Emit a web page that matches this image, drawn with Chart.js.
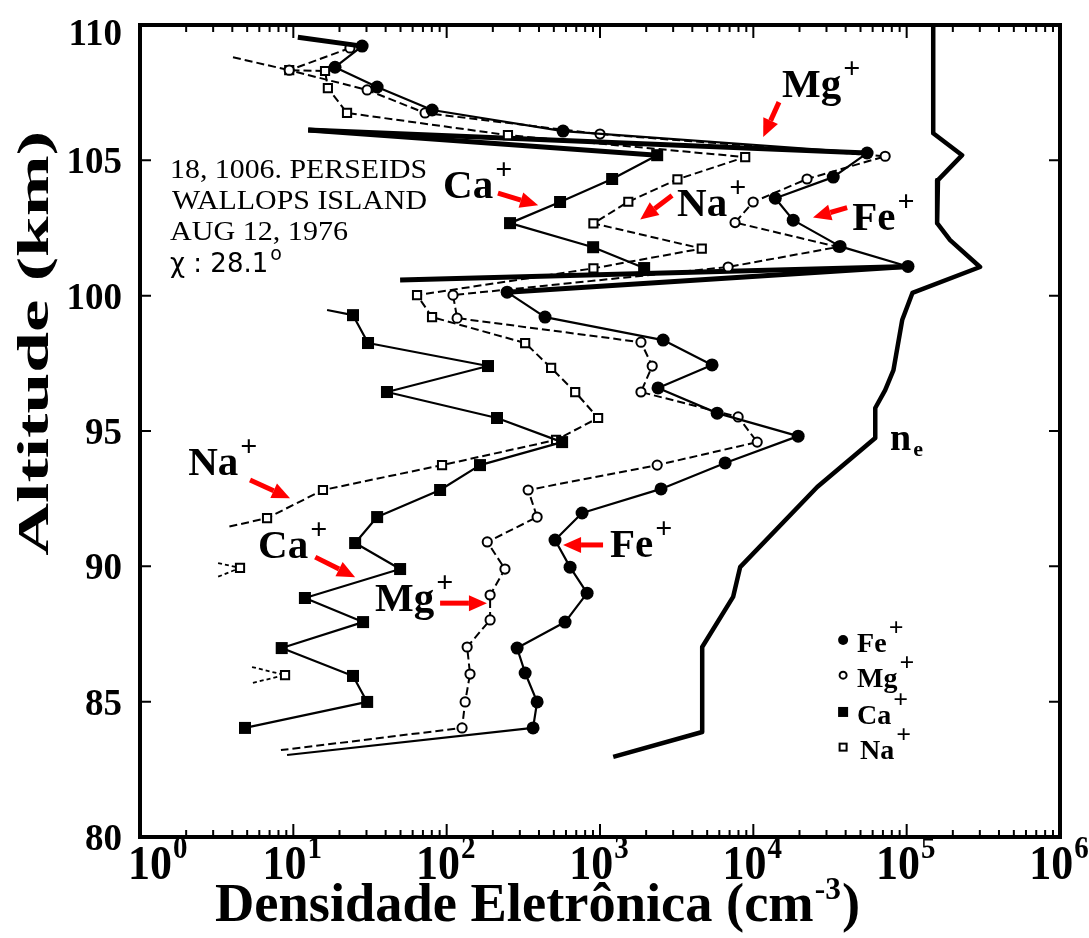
<!DOCTYPE html>
<html><head><meta charset="utf-8">
<script src="https://cdn.jsdelivr.net/npm/chart.js@4.4.1/dist/chart.umd.min.js"></script>
<style>html,body{margin:0;padding:0;background:#fff;}canvas{display:block;}</style>
</head><body>
<canvas id="c" width="1089" height="938"></canvas>
<script>
// ---------------- data (altitude in km, density in cm^-3) ----------------
const feAlt = [109.55,109.22,108.44,107.71,106.86,106.08,105.27,104.38,103.60,102.79,101.82,101.08,100.13,99.21,98.36,97.44,96.59,95.66,94.81,93.82,92.86,91.97,90.97,89.97,89.01,87.94,86.98,86.06,84.99,84.03,83.03];
const feVal = [10.7,28.1,18.7,35.2,80.4,574,55200,33200,13900,18200,36800,102000,248,438,2580,5380,2390,5810,19600,6550,2500,764,509,638,824,592,288,325,389,366,9.1];

const mgAlt = [109.15,108.33,107.60,106.75,105.97,105.15,104.31,103.46,102.70,101.80,101.06,100.02,99.17,98.28,97.40,96.44,95.52,94.59,93.74,92.82,91.82,90.90,89.90,88.94,88.02,87.02,86.02,84.99,84.03,83.21];
const mgVal = [23.4,9.4,30.3,72.3,1000,72400,22400,9970,7600,35700,6850,110,117,1850,2190,1850,7960,10600,2360,340,389,184,240,192,192,136,142,132,126,8.3];

const caAlt = [106.12,105.19,104.31,103.46,102.68,101.79,101.02,null,99.47,99.28,98.25,97.40,96.44,95.48,94.59,93.74,92.82,91.82,90.86,89.90,88.83,87.94,86.98,85.95,84.99,84.03];
const caVal = [12.5,2360,1200,549,259,902,1940,null,16.6,24.5,30.7,186,40.8,213,566,165,90.6,35.2,25.3,49.7,11.9,28.5,8.4,24.5,30.3,4.84];

const naAlt = [108.81,108.33,108.30,107.67,106.75,105.93,105.12,104.30,103.47,102.67,101.74,101.01,100.02,99.21,98.25,97.33,96.44,95.48,94.67,93.74,92.82,91.78,91.45];
const naVal = [4.04,9.4,16.1,16.8,22.4,251,8850,3200,1530,906,4610,906,64.1,80.3,325,480,689,972,517,93.3,15.6,6.74,3.7];

const naLimitAlt1 = [90.12,89.94,89.60];
const naLimitVal1 = [3.23,4.49,3.18];
const naLimitAlt2 = [86.28,85.98,85.69];
const naLimitVal2 = [5.38,8.83,5.38];

const linkAlt1 = [106.12,105.27];
const linkVal1 = [12.5,55200];
const linkAlt2 = [100.58,101.08];
const linkVal2 = [49.7,102000];

const neAlt = [110,106.0,105.19,104.27,102.68,102.05,101.06,100.10,99.10,97.25,96.51,95.85,94.74,92.93,89.97,88.87,87.02,83.88,82.96];
const neVal = [149000,149000,230000,160000,158000,192000,301000,109000,93500,82000,72400,62400,62400,26100,8200,7380,4640,4640,1220];

const xTickExponents = [0,1,2,3,4,5,6];
const yTickValues = [80,85,90,95,100,105,110];

const infoLines = ['18, 1006. PERSEIDS','WALLOPS ISLAND','AUG 12, 1976'];
const legendItems = ['Fe','Mg','Ca','Na'];

// annotations in data space: [density, altitude]
const notes = [
  {base:'Mg', at:[15400,107.34], tail:[14700,107.15], tip:[11600,105.86]},
  {base:'Ca', at:[94.8,103.61],  tail:[216,103.79],   tip:[395,103.34]},
  {base:'Na', at:[3180,102.94],  tail:[2950,103.70],  tip:[1830,102.81]},
  {base:'Fe', at:[44100,102.42], tail:[40900,103.25], tip:[24500,102.89]},
  {base:'Na', at:[2.06,93.37],   tail:[5.22,93.19],   tip:[9.52,92.52]},
  {base:'Ca', at:[5.89,90.31],   tail:[13.9,90.34],   tip:[25.3,89.60]},
  {base:'Mg', at:[34.1,88.35],   tail:[90.6,88.64],   tip:[183,88.64]},
  {base:'Fe', at:[1160,90.34],   tail:[1047,90.79],   tip:[574,90.79]}
];

// ---------------- chart ----------------
const SERIF = '"Liberation Serif","Times New Roman",serif';
const toPts = (vals, alts) => vals.map((v,i)=>({x:v, y:alts[i]}));
function line(label, vals, alts, extra){
  return Object.assign({label, data: toPts(vals, alts), showLine:true, spanGaps:false,
    borderColor:'#000', pointBorderColor:'#000', borderJoinStyle:'round', fill:false}, extra);
}

const datasets = [
  line('n_e', neVal, neAlt, {borderWidth:4.5, pointRadius:0, order:10}),
  line('Fe+ ligação 1', linkVal1, linkAlt1, {borderWidth:5, pointRadius:0, order:5}),
  line('Fe+ ligação 2', linkVal2, linkAlt2, {borderWidth:5, pointRadius:0, order:5}),
  line('Na+', naVal, naAlt, {borderWidth:2, borderDash:[8,4], pointStyle:'rect', pointBackgroundColor:'#fff', pointBorderWidth:2,
        pointRadius: c => (c.dataIndex===0 || c.dataIndex===naVal.length-1) ? 0 : 5.8, order:4}),
  line('Na+ limite 1', naLimitVal1, naLimitAlt1, {borderWidth:1.8, borderDash:[4,3], pointStyle:'rect', pointBackgroundColor:'#fff', pointBorderWidth:2,
        pointRadius: c => c.dataIndex===1 ? 5.8 : 0, order:4}),
  line('Na+ limite 2', naLimitVal2, naLimitAlt2, {borderWidth:1.8, borderDash:[4,3], pointStyle:'rect', pointBackgroundColor:'#fff', pointBorderWidth:2,
        pointRadius: c => c.dataIndex===1 ? 5.8 : 0, order:4}),
  line('Mg+', mgVal, mgAlt, {borderWidth:2, borderDash:[8,4], pointStyle:'circle', pointBackgroundColor:'#fff', pointBorderWidth:2,
        pointRadius: c => c.dataIndex===mgVal.length-1 ? 0 : 4.6, order:3}),
  line('Ca+', caVal, caAlt, {borderWidth:2.2, pointStyle:'rect', pointBackgroundColor:'#000', pointBorderWidth:0,
        pointRadius: c => (c.dataIndex===0 || c.dataIndex===8) ? 0 : 8.5,
        segment:{borderWidth: c => c.p0DataIndex===0 ? 5 : 2.2}, order:2}),
  line('Fe+', feVal, feAlt, {borderWidth:2.2, pointStyle:'circle', pointBackgroundColor:'#000', pointBorderWidth:0,
        pointRadius: c => (c.dataIndex===0 || c.dataIndex===feVal.length-1) ? 0 : 6.5,
        segment:{borderWidth: c => (c.p0DataIndex===11 || c.p0DataIndex===0) ? 5 : 2.2}, order:1})
];

function fitText(ctx, s, x, y, font, targetW, sy){
  ctx.font = font;
  const w = ctx.measureText(s).width;
  ctx.save(); ctx.translate(x, y); ctx.scale(targetW ? targetW / w : 1, sy || 1);
  ctx.textAlign = 'left'; ctx.textBaseline = 'alphabetic';
  ctx.fillText(s, 0, 0); ctx.restore();
}
function supText(ctx, base, sup, x, y, size, supSize, rise, gap){
  ctx.textAlign='left'; ctx.textBaseline='alphabetic';
  ctx.font = `bold ${size}px ${SERIF}`;
  ctx.fillText(base, x, y);
  const w = ctx.measureText(base).width;
  ctx.font = `bold ${supSize}px ${SERIF}`;
  ctx.fillText(sup, x + w + (gap||2), y - rise);
}
function redArrow(ctx, x1, y1, x2, y2){
  const ang = Math.atan2(y2-y1, x2-x1), L = 18, H = 8;
  const bx = x2 - L*Math.cos(ang), by = y2 - L*Math.sin(ang);
  ctx.save(); ctx.strokeStyle = '#f00'; ctx.fillStyle = '#f00'; ctx.lineWidth = 5; ctx.lineCap='butt';
  ctx.beginPath(); ctx.moveTo(x1, y1); ctx.lineTo(bx, by); ctx.stroke();
  ctx.beginPath(); ctx.moveTo(x2, y2);
  ctx.lineTo(bx + H*Math.sin(ang), by - H*Math.cos(ang));
  ctx.lineTo(bx - H*Math.sin(ang), by + H*Math.cos(ang));
  ctx.closePath(); ctx.fill(); ctx.restore();
}

const decor = {
  id:'decor',
  afterDatasetsDraw(chart){
    const ctx = chart.ctx, a = chart.chartArea, sx = chart.scales.x, sy = chart.scales.y;
    const px = v => sx.getPixelForValue(v), py = v => sy.getPixelForValue(v);
    ctx.save();
    ctx.fillStyle = '#000'; ctx.strokeStyle = '#000';
    // frame
    ctx.lineWidth = 4; ctx.strokeRect(a.left, a.top, a.right - a.left, a.bottom - a.top);
    // ticks (inward)
    ctx.lineWidth = 2; ctx.beginPath();
    for (let e = 0; e < 6; e++) for (let m = 1; m < 10; m++) {
      if (e === 0 && m === 1) continue;
      const x = px(m * Math.pow(10, e)), L = m === 1 ? 13 : 7;
      ctx.moveTo(x, a.bottom); ctx.lineTo(x, a.bottom - L);
      ctx.moveTo(x, a.top); ctx.lineTo(x, a.top + L);
    }
    yTickValues.forEach(v => {
      if (v === 80 || v === 110) return;
      const y = py(v);
      ctx.moveTo(a.left, y); ctx.lineTo(a.left + 11, y);
      ctx.moveTo(a.right, y); ctx.lineTo(a.right - 11, y);
    });
    ctx.stroke();

    // y tick labels
    ctx.font = `bold 37px ${SERIF}`; ctx.textAlign = 'right'; ctx.textBaseline = 'alphabetic';
    yTickValues.forEach(v => { const y = Math.max(py(v), 32); ctx.fillText(String(v), a.left - 18, y + 13); });

    // x tick labels 10^n
    xTickExponents.forEach(e => {
      const x = px(Math.pow(10, e));
      ctx.font = `bold 44px ${SERIF}`; const wb = ctx.measureText('10').width;
      ctx.font = `bold 29px ${SERIF}`; const ws = ctx.measureText(String(e)).width;
      const tot = wb + ws + 1;
      const left = e === 0 ? x - 12 : x - tot / 2 - 1;
      ctx.save(); ctx.translate(left, a.bottom + 42); ctx.scale(1, 1.1);
      supText(ctx, '10', String(e), 0, 0, 44, 29, 19, 1);
      ctx.restore();
    });

    // x axis title
    {
      const s1 = 'Densidade Eletrônica (cm', s2 = '-3', s3 = ')';
      ctx.font = `bold 52px ${SERIF}`; const w1 = ctx.measureText(s1).width, w3 = ctx.measureText(s3).width;
      ctx.font = `bold 30px ${SERIF}`; const w2 = ctx.measureText(s2).width;
      const tot = w1 + w2 + w3 + 2, k = 645 / tot;
      ctx.save(); ctx.translate(215, a.bottom + 84); ctx.scale(k, 1.06); ctx.textAlign='left';
      ctx.font = `bold 52px ${SERIF}`; ctx.fillText(s1, 0, 0);
      ctx.font = `bold 30px ${SERIF}`; ctx.fillText(s2, w1 + 1, -21);
      ctx.font = `bold 52px ${SERIF}`; ctx.fillText(s3, w1 + w2 + 2, 0);
      ctx.restore();
    }
    // y axis title
    {
      const s = 'Altitude (km)';
      ctx.font = `bold 44px ${SERIF}`; const w = ctx.measureText(s).width;
      ctx.save(); ctx.translate(48, (py(105) + py(90)) / 2 - 20); ctx.rotate(-Math.PI / 2); ctx.scale(425 / w, 1);
      ctx.textAlign = 'center'; ctx.fillText(s, 0, 0); ctx.restore();
    }

    // info block
    {
      const x0 = px(1.57), y0 = py(104.34);
      const widths = [257, 255, 178];
      infoLines.forEach((s, i) => fitText(ctx, s, x0 + (i === 1 ? 2 : 0), y0 + i * 31, `27px ${SERIF}`, widths[i]));
      ctx.font = '26px "DejaVu Sans"'; ctx.textAlign = 'left';
      ctx.fillText('\u03c7 : 28.1', x0, y0 + 94);
      const w = ctx.measureText('\u03c7 : 28.1').width;
      ctx.font = '19px "DejaVu Sans"'; ctx.fillText('o', x0 + w + 2, y0 + 82);
    }

    // arrows + labels
    notes.forEach(n => {
      redArrow(ctx, px(n.tail[0]), py(n.tail[1]), px(n.tip[0]), py(n.tip[1]));
      ctx.fillStyle = '#000';
      supText(ctx, n.base, '+', px(n.at[0]), py(n.at[1]), 41, 30, 19, 2);
    });

    // n_e label
    {
      const x = px(78000), y = py(94.30);
      ctx.font = `bold 38px ${SERIF}`; ctx.textAlign='left'; ctx.fillText('n', x, y);
      const w = ctx.measureText('n').width;
      ctx.font = `bold 22px ${SERIF}`; ctx.fillText('e', x + w + 2, y + 6);
    }

    // legend
    {
      const mx = px(38500), tx = mx + 14;
      const rows = [87.28, 85.98, 84.62, 83.32];
      rows.forEach((alt, i) => {
        const y = py(alt);
        ctx.lineWidth = 2; ctx.fillStyle = '#000'; ctx.strokeStyle = '#000';
        if (i === 0) { ctx.beginPath(); ctx.arc(mx, y, 5, 0, 2*Math.PI); ctx.fill(); }
        if (i === 1) { ctx.beginPath(); ctx.arc(mx, y, 3.5, 0, 2*Math.PI); ctx.fillStyle='#fff'; ctx.fill(); ctx.stroke(); }
        if (i === 2) { ctx.fillRect(mx - 5, y - 5, 10, 10); }
        if (i === 3) { ctx.fillStyle='#fff'; ctx.fillRect(mx-3.5, y-3.5, 7, 7); ctx.strokeRect(mx - 3.5, y - 3.5, 7, 7); }
        ctx.fillStyle = '#000';
        supText(ctx, legendItems[i], '+', tx + (i === 3 ? 3 : 0), y + 12, 28, 26, 16, 2);
      });
    }
    ctx.restore();
  }
};

new Chart(document.getElementById('c'), {
  type: 'scatter',
  data: { datasets },
  options: {
    responsive: false, animation: false, devicePixelRatio: 1, events: [],
    layout: { padding: { left: 140, right: 29, top: 25, bottom: 101 } },
    plugins: { legend: { display: false }, tooltip: { enabled: false } },
    scales: {
      x: { type: 'logarithmic', min: 1, max: 1e6, display: false },
      y: { type: 'linear', min: 80, max: 110, display: false }
    }
  },
  plugins: [decor]
});
</script>
</body></html>
